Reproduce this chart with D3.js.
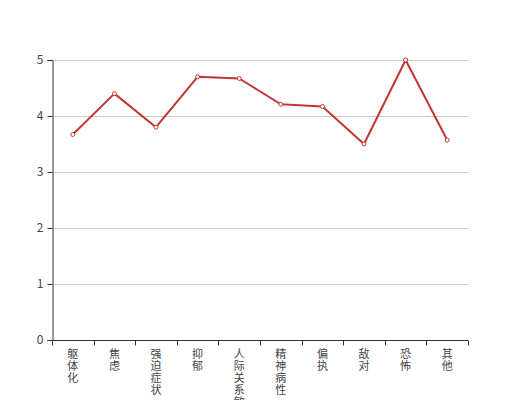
<!DOCTYPE html>
<html><head><meta charset="utf-8">
<script src="https://cdn.jsdelivr.net/npm/d3@7/dist/d3.min.js"></script>
<style>body{margin:0;background:#fff}svg{display:block}</style>
</head><body>
<svg id="c" width="520" height="400"></svg>
<script>
const categories = ["躯体化","焦虑","强迫症状","抑郁","人际关系敏感","精神病性","偏执","敌对","恐怖","其他"];
const values = [3.67, 4.4, 3.8, 4.7, 4.67, 4.21, 4.17, 3.5, 5.0, 3.57];
const yTicks = [0,1,2,3,4,5];

const svg = d3.select("#c");
const m = {left:52, right:468, top:60, bottom:340};
const x = d3.scaleBand().domain(categories).range([m.left, m.right]);
const y = d3.scaleLinear().domain([0,5]).range([m.bottom, m.top]);
const font = "'Noto Sans CJK SC', sans-serif";

// grid
svg.append("g").selectAll("line").data(yTicks.filter(d=>d>0)).join("line")
  .attr("x1", m.left).attr("x2", m.right)
  .attr("y1", d=>y(d)+0.5).attr("y2", d=>y(d)+0.5)
  .attr("stroke", "#ccc").attr("stroke-width", 1);

// y axis
const ya = svg.append("g").attr("transform", `translate(${m.left+0.5},0)`)
  .call(d3.axisLeft(y).tickValues(yTicks).tickSize(5).tickPadding(4).tickFormat(d3.format("d")));
ya.select(".domain").attr("stroke", "#333");
ya.selectAll(".tick line").attr("stroke", "#333");
ya.selectAll("text").attr("fill", "#444").style("font-size", "12px").style("font-family", font);

// x axis
const xa = svg.append("g").attr("transform", `translate(0,${m.bottom+0.5})`);
xa.append("line").attr("x1", m.left).attr("x2", m.right).attr("stroke", "#333");
const bounds = categories.map(c=>x(c)).concat([m.right]);
xa.selectAll(".tk").data(bounds).join("line").attr("class","tk")
  .attr("x1", d=>Math.round(d)+0.5).attr("x2", d=>Math.round(d)+0.5)
  .attr("y1", 0).attr("y2", 5).attr("stroke", "#333");
const lbl = xa.selectAll(".lb").data(categories).join("text").attr("class","lb")
  .attr("fill", "#444").style("font-size", "11px").style("font-family", font)
  .attr("text-anchor", "middle");
lbl.each(function(c){
  const t = d3.select(this);
  Array.from(c).forEach((ch,i)=>{
    t.append("tspan").attr("x", x(c)+x.bandwidth()/2).attr("y", 17 + i*12).text(ch);
  });
});

// line
const line = d3.line().x((d,i)=>x(categories[i])+x.bandwidth()/2).y(d=>y(d));
svg.append("path").datum(values).attr("d", line)
  .attr("fill", "none").attr("stroke", "#c23531").attr("stroke-width", 2).attr("stroke-linejoin","round");
svg.append("g").selectAll("circle").data(values).join("circle")
  .attr("cx", (d,i)=>x(categories[i])+x.bandwidth()/2).attr("cy", d=>y(d))
  .attr("r", 2).attr("fill", "#fff").attr("stroke", "#c23531").attr("stroke-width", 1);
</script>
</body></html>
